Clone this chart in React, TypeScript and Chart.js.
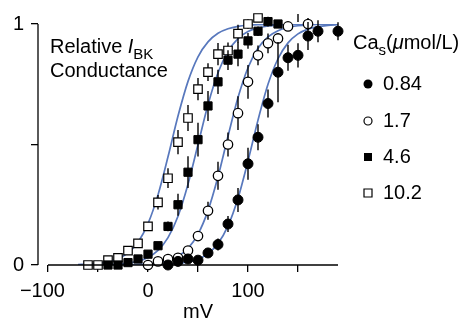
import React, { useEffect, useRef } from 'react';
import { Chart, registerables } from 'chart.js';

Chart.register(...registerables);

const FONT = '"Liberation Sans", Arial, Helvetica, sans-serif';
const BLUE = '#5878bd';

// Axis ticks
const xTickValues = [-100, -50, 0, 50, 100, 150];
const xTickLabels = ['\u2212100\u2007', '', '0', '', '100', ''];
const yTickValues = [0, 0.5, 1];
const yTickLabels = ['0', '', '1'];

// Legend labels
const seriesLabels = ['0.84', '1.7', '4.6', '10.2'];

// Ca 0.84 µmol/L (filled circles)
const mv084 = [20, 30, 40, 50, 60, 70, 80, 90, 100, 110, 120, 130, 140, 150, 160, 170, 190];
const g084 = [0, 0.015, 0.025, 0.02, 0.05, 0.085, 0.17, 0.27, 0.42, 0.53, 0.67, 0.8, 0.86, 0.87, 0.95, 0.97, 0.97];
const err084 = [0, 0, 0, 0, 0.012, 0.025, 0.033, 0.05, 0.066, 0.054, 0.058, 0.125, 0.054, 0.05, 0.058, 0.046, 0.037];

// Ca 1.7 µmol/L (open circles)
const mv17 = [0, 10, 20, 30, 40, 50, 60, 70, 80, 90, 100, 110, 120, 130, 140, 150, 160];
const g17 = [0, 0.015, 0.025, 0.03, 0.06, 0.12, 0.225, 0.37, 0.5, 0.63, 0.76, 0.87, 0.92, 0.94, 0.99, 1.025, 1.0];
const err17 = [0, 0, 0, 0, 0.012, 0.02, 0.037, 0.058, 0.05, 0.07, 0.07, 0.041, 0.041, 0.02, 0.017, 0.017, 0.025];

// Ca 4.6 µmol/L (filled squares)
const mv46 = [-40, -30, -20, -10, 0, 10, 20, 30, 40, 50, 60, 70, 80, 90, 100, 110, 120, 130];
const g46 = [0, 0, 0.01, 0.025, 0.045, 0.08, 0.16, 0.25, 0.385, 0.52, 0.66, 0.76, 0.85, 0.875, 0.93, 0.97, 1.01, 1.0];
const err46 = [0, 0, 0, 0, 0, 0.012, 0.02, 0.046, 0.066, 0.07, 0.062, 0.05, 0.041, 0.05, 0.033, 0.02, 0.02, 0.017];

// Ca 10.2 µmol/L (open squares)
const mv102 = [-60, -50, -40, -30, -20, -10, 0, 10, 20, 30, 40, 50, 60, 70, 80, 90, 100, 110];
const g102 = [0, 0, 0.02, 0.03, 0.06, 0.09, 0.16, 0.26, 0.36, 0.51, 0.61, 0.73, 0.8, 0.875, 0.89, 0.96, 1.0, 1.025];
const err102 = [0, 0, 0, 0, 0, 0, 0, 0.03, 0.041, 0.05, 0.054, 0.046, 0.037, 0.046, 0.033, 0.037, 0.02, 0.017];

// Fitted curves
const curveMv = [-70, -60, -50, -40, -30, -20, -10, 0, 10, 20, 30, 40, 50, 60, 70, 80, 90, 100, 110, 120, 130, 140, 150, 160, 170, 180, 190];
const fit102 = [0.0017, 0.0034, 0.0067, 0.0132, 0.0258, 0.05, 0.0945, 0.1715, 0.291, 0.449, 0.618, 0.762, 0.864, 0.926, 0.9615, 0.98, 0.99, 0.9949, 0.9974, 0.9987, 0.9993, 0.9997, 0.9998, 0.9999, 1, 1, 1];
const fit46 = [0.00027, 0.00053, 0.00106, 0.0021, 0.0042, 0.0082, 0.0162, 0.0315, 0.0607, 0.1135, 0.2026, 0.335, 0.5, 0.665, 0.7974, 0.8865, 0.9393, 0.9685, 0.9838, 0.9918, 0.9958, 0.9979, 0.9989, 0.9995, 0.9997, 0.9999, 0.9999];
const fit17 = [0.00004, 0.00008, 0.00016, 0.00031, 0.00061, 0.00122, 0.0024, 0.0048, 0.0094, 0.0185, 0.036, 0.069, 0.128, 0.2257, 0.366, 0.534, 0.6947, 0.8186, 0.8995, 0.9467, 0.9724, 0.9859, 0.9928, 0.9964, 0.9982, 0.9991, 0.9996];
const fit084 = [0.00001, 0.00001, 0.00003, 0.00005, 0.0001, 0.0002, 0.0004, 0.0008, 0.0016, 0.0032, 0.0063, 0.0123, 0.0242, 0.0468, 0.0888, 0.162, 0.277, 0.432, 0.601, 0.7496, 0.8558, 0.9217, 0.959, 0.9789, 0.9892, 0.9945, 0.9972];

const pts = (xs: number[], ys: number[]) => xs.map((x, i) => ({ x, y: ys[i] }));

type Seg = { t: string; size: number; italic?: boolean; dy?: number };
function drawRich(ctx: CanvasRenderingContext2D, x: number, y: number, segs: Seg[]) {
  let cx = x;
  for (const s of segs) {
    ctx.font = `${s.italic ? 'italic ' : ''}${s.size}px ${FONT}`;
    ctx.fillText(s.t, cx, y + (s.dy || 0));
    cx += ctx.measureText(s.t).width;
  }
}

const decor = {
  id: 'decor',
  beforeDatasetDraw(chart: any, args: any) {
    const ds = chart.data.datasets[args.index];
    if (!ds.errors) return;
    const { ctx } = chart;
    const xs = chart.scales.x;
    const ys = chart.scales.y;
    ctx.save();
    ctx.strokeStyle = '#000';
    ctx.lineWidth = 1.4;
    ds.data.forEach((p: any, i: number) => {
      const e = ds.errors[i];
      if (!e) return;
      const px = xs.getPixelForValue(p.x);
      ctx.beginPath();
      ctx.moveTo(px, ys.getPixelForValue(p.y - e));
      ctx.lineTo(px, ys.getPixelForValue(p.y + e));
      ctx.stroke();
    });
    ctx.restore();
  },
  afterDraw(chart: any) {
    const { ctx, chartArea } = chart;
    const xs = chart.scales.x;
    const ys = chart.scales.y;
    ctx.save();
    ctx.strokeStyle = '#000';
    ctx.lineWidth = 1.3;
    // y axis line (0..1)
    ctx.beginPath();
    ctx.moveTo(chartArea.left, ys.getPixelForValue(1));
    ctx.lineTo(chartArea.left, ys.getPixelForValue(0));
    ctx.stroke();
    // x axis line (from -100 to end)
    ctx.beginPath();
    ctx.moveTo(xs.getPixelForValue(xTickValues[0]), chartArea.bottom);
    ctx.lineTo(chartArea.right, chartArea.bottom);
    ctx.stroke();

    ctx.fillStyle = '#000';
    ctx.textBaseline = 'alphabetic';
    ctx.textAlign = 'left';
    // annotation
    drawRich(ctx, 50, 53, [
      { t: 'Relative ', size: 20 },
      { t: 'I', size: 20, italic: true },
      { t: 'BK', size: 15, dy: 6 },
    ]);
    drawRich(ctx, 50, 77, [{ t: 'Conductance', size: 20 }]);

    // x-axis title
    ctx.font = `20px ${FONT}`;
    ctx.textAlign = 'center';
    ctx.fillText('mV', xs.getPixelForValue(50), 318);
    ctx.textAlign = 'left';

    // legend
    drawRich(ctx, 353, 49, [
      { t: 'Ca', size: 20 },
      { t: 's', size: 15, dy: 6 },
      { t: '(', size: 20 },
      { t: '\u03bc', size: 20, italic: true },
      { t: 'mol/L)', size: 20 },
    ]);
    const rows = [84, 121, 157, 193];
    const mx = 368;
    rows.forEach((ry, i) => {
      ctx.lineWidth = 1.2;
      ctx.beginPath();
      if (i === 0) {
        ctx.arc(mx, ry, 4.5, 0, Math.PI * 2);
        ctx.fillStyle = '#000';
        ctx.fill();
      } else if (i === 1) {
        ctx.arc(mx, ry, 4, 0, Math.PI * 2);
        ctx.fillStyle = '#fff';
        ctx.fill();
        ctx.stroke();
      } else if (i === 2) {
        ctx.rect(mx - 4, ry - 4, 8, 8);
        ctx.fillStyle = '#000';
        ctx.fill();
      } else {
        ctx.rect(mx - 4, ry - 4, 8, 8);
        ctx.fillStyle = '#fff';
        ctx.fill();
        ctx.stroke();
      }
      ctx.fillStyle = '#000';
      ctx.font = `20px ${FONT}`;
      ctx.textBaseline = 'middle';
      ctx.fillText(seriesLabels[i], 383, ry);
      ctx.textBaseline = 'alphabetic';
    });
    ctx.restore();
  },
};

export default function App() {
  const ref = useRef<HTMLCanvasElement>(null);
  useEffect(() => {
    document.body.style.margin = '0';
    const canvas = ref.current!;
    const curve = (data: number[]) => ({
      data: pts(curveMv, data),
      showLine: true,
      borderColor: BLUE,
      borderWidth: 1.7,
      pointRadius: 0,
      cubicInterpolationMode: 'monotone' as const,
      order: 10,
    });
    const chart = new Chart(canvas, {
      type: 'scatter',
      data: {
        datasets: [
          curve(fit084),
          curve(fit17),
          curve(fit46),
          curve(fit102),
          {
            label: seriesLabels[0], data: pts(mv084, g084), errors: err084,
            pointStyle: 'circle', pointRadius: 5, pointBackgroundColor: '#000', pointBorderColor: '#000', pointBorderWidth: 1,
            clip: false, order: 0,
          } as any,
          {
            label: seriesLabels[1], data: pts(mv17, g17), errors: err17,
            pointStyle: 'circle', pointRadius: 4.7, pointBackgroundColor: '#fff', pointBorderColor: '#000', pointBorderWidth: 1.3,
            clip: false, order: 1,
          } as any,
          {
            label: seriesLabels[2], data: pts(mv46, g46), errors: err46,
            pointStyle: 'rect', pointRadius: 5.8, pointBackgroundColor: '#000', pointBorderColor: '#000', pointBorderWidth: 1,
            clip: false, order: 2,
          } as any,
          {
            label: seriesLabels[3], data: pts(mv102, g102), errors: err102,
            pointStyle: 'rect', pointRadius: 6, pointBackgroundColor: '#fff', pointBorderColor: '#000', pointBorderWidth: 1.2,
            clip: false, order: 3,
          } as any,
        ],
      },
      options: {
        responsive: false,
        animation: false,
        events: [],
        layout: { padding: { top: 24, right: 131, left: 0, bottom: 0 } },
        plugins: { legend: { display: false }, tooltip: { enabled: false } },
        scales: {
          x: {
            type: 'linear', min: -110, max: 190,
            afterBuildTicks: (s: any) => { s.ticks = xTickValues.map((v) => ({ value: v })); },
            afterFit: (s: any) => { s.height = 55; },
            border: { display: false },
            grid: { drawOnChartArea: false, drawTicks: true, tickLength: 7, color: '#000', lineWidth: 1.3 },
            ticks: {
              color: '#000', font: { family: FONT, size: 20 }, padding: 7, maxRotation: 0, autoSkip: false,
              callback: (v: any) => { const i = xTickValues.indexOf(Number(v)); return i >= 0 ? xTickLabels[i] : ''; },
            },
          },
          y: {
            type: 'linear', min: 0, max: 1,
            afterBuildTicks: (s: any) => { s.ticks = yTickValues.map((v) => ({ value: v })); },
            afterFit: (s: any) => { s.width = 38; },
            border: { display: false },
            grid: { drawOnChartArea: false, drawTicks: true, tickLength: 7, color: '#000', lineWidth: 1.3 },
            ticks: {
              color: '#000', font: { family: FONT, size: 20 }, padding: 7, autoSkip: false,
              callback: (v: any) => { const i = yTickValues.indexOf(Number(v)); return i >= 0 ? yTickLabels[i] : ''; },
            },
          },
        },
      },
      plugins: [decor],
    });
    return () => chart.destroy();
  }, []);
  return (
    <div style={{ width: 469, height: 320 }}>
      <canvas ref={ref} width={469} height={320} style={{ display: 'block' }} />
    </div>
  );
}
